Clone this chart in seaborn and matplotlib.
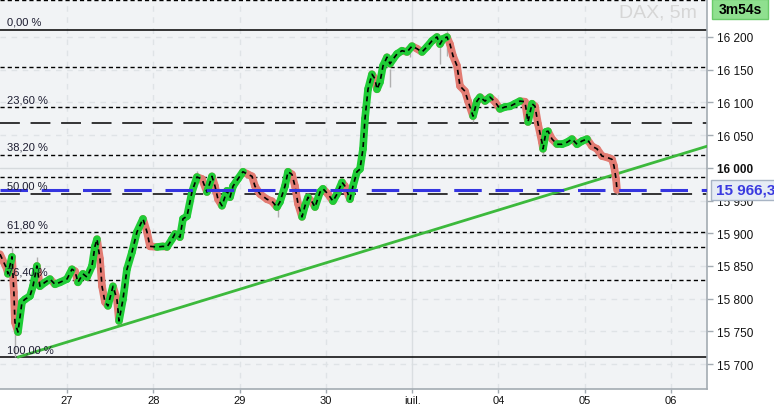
import numpy as np
import pandas as pd
import matplotlib
matplotlib.use("Agg")
import matplotlib.pyplot as plt
import seaborn as sns
from matplotlib.patches import Rectangle

# ---- data (x in trading-day units: 1 = "27", 5 = "iuil.", 8 = "06") ----
day = [0.224, 0.305, 0.316, 0.363, 0.385, 0.397, 0.432, 0.479, 0.513, 0.571, 0.606, 0.652, 0.687,
       0.745, 0.803, 0.861, 0.919, 1.000, 1.058, 1.093, 1.127, 1.185, 1.232, 1.290, 1.324, 1.348,
       1.382, 1.406, 1.440, 1.475, 1.533, 1.579, 1.603, 1.649, 1.695, 1.753, 1.811, 1.881, 1.927,
       1.962, 2.043, 2.112, 2.159, 2.217, 2.251, 2.309, 2.344, 2.391, 2.448, 2.506, 2.564, 2.622,
       2.680, 2.715, 2.750, 2.796, 2.854, 2.889, 2.924, 2.981, 3.039, 3.097, 3.144, 3.178, 3.236,
       3.317, 3.375, 3.433, 3.468, 3.526, 3.561, 3.607, 3.642, 3.677, 3.723, 3.758, 3.793, 3.839,
       3.874, 3.932, 3.966, 4.024, 4.082, 4.129, 4.187, 4.221, 4.279, 4.314, 4.360, 4.395, 4.430,
       4.453, 4.488, 4.534, 4.569, 4.592, 4.627, 4.662, 4.708, 4.743, 4.778, 4.824, 4.882, 4.940,
       4.998, 5.056, 5.114, 5.172, 5.229, 5.287, 5.322, 5.357, 5.403, 5.438, 5.473, 5.519, 5.554,
       5.612, 5.647, 5.705, 5.751, 5.786, 5.844, 5.901, 5.959, 6.017, 6.075, 6.133, 6.191, 6.249,
       6.307, 6.342, 6.388, 6.423, 6.458, 6.504, 6.516, 6.550, 6.574, 6.620, 6.678, 6.736, 6.794,
       6.852, 6.910, 6.968, 7.026, 7.083, 7.141, 7.199, 7.257, 7.315, 7.338, 7.362, 7.373]
price = [15868, 15845, 15838, 15864, 15810, 15764, 15749, 15795, 15799, 15804, 15819, 15850, 15819,
         15825, 15830, 15822, 15825, 15830, 15845, 15842, 15825, 15838, 15833, 15850, 15880, 15891,
         15861, 15819, 15795, 15789, 15819, 15799, 15766, 15799, 15845, 15871, 15902, 15922, 15902,
         15880, 15879, 15880, 15879, 15891, 15899, 15894, 15922, 15926, 15963, 15986, 15983, 15963,
         15987, 15972, 15952, 15942, 15965, 15955, 15972, 15983, 15994, 15990, 15987, 15972, 15960,
         15952, 15949, 15940, 15948, 15972, 15994, 15990, 15972, 15945, 15925, 15942, 15955, 15948,
         15940, 15963, 15968, 15960, 15949, 15960, 15978, 15972, 15952, 15972, 15994, 15998, 16029,
         16075, 16120, 16143, 16136, 16120, 16131, 16156, 16169, 16159, 16166, 16174, 16179, 16177,
         16186, 16182, 16177, 16185, 16194, 16200, 16189, 16197, 16200, 16189, 16171, 16156, 16125,
         16117, 16102, 16079, 16102, 16108, 16102, 16108, 16101, 16090, 16093, 16094, 16098, 16102,
         16101, 16070, 16098, 16094, 16067, 16039, 16029, 16055, 16056, 16044, 16036, 16036, 16039,
         16044, 16036, 16041, 16044, 16033, 16029, 16018, 16016, 16013, 16003, 15983, 15966.3]

# gray wicks: position, low, high
wick_day = [0.40, 0.363, 0.652, 2.506, 2.68, 3.44, 4.743, 4.97, 5.322, 5.40, 5.705, 6.516, 7.373]
wick_low = [15711, 15855, 15840, 15975, 15960, 15925, 16124, 16170, 16159, 16171, 16070, 16020, 15958]
wick_high = [15770, 15879, 15864, 15995, 15990, 15945, 16151, 16190, 16197, 16209, 16080, 16030, 15970]

fib_high = 16210.7
fib_low = 15710.7
fib_ratios = [0.0, 0.236, 0.382, 0.5, 0.618, 0.764, 1.0]
fib_labels = ["0,00 %", "23,60 %", "38,20 %", "50,00 %", "61,80 %", "76,40 %", "100,00 %"]

short_dash_levels = [16257, 16154, 15986, 15879]
long_dash_levels = [16068.5]

last_price = 15966.3
trend_x = [0.432, 8.416]
trend_y = [15710.7, 16033.0]

x_ticks = [1, 2, 3, 4, 5, 6, 7, 8]
x_labels = ["27", "28", "29", "30", "iuil.", "04", "05", "06"]
y_ticks = [15700, 15750, 15800, 15850, 15900, 15950, 16000, 16050, 16100, 16150, 16200]

XLIM = (0.224, 8.416)
YLIM = (15662, 16258)

# ---- figure ----
sns.set_theme(style="white")
plt.rcParams["font.family"] = ["Liberation Sans", "DejaVu Sans"]

fig = plt.figure(figsize=(7.74, 4.06), dpi=100)
fig.patch.set_facecolor("white")
ax = fig.add_axes([0, 1 - 390 / 406, 707 / 774, 390 / 406])
ax.set_facecolor("#f1f3f5")
ax.set_xlim(*XLIM)
ax.set_ylim(*YLIM)

# grid
for t in y_ticks:
    if t == 16000:
        ax.axhline(t, color="#d6dadd", lw=1, zorder=0)
    else:
        ax.axhline(t, color="#dfe3e6", lw=1, ls=(0, (4, 4)), zorder=0)
for t in x_ticks:
    if t == 5:
        ax.axvline(t, color="#dadee1", lw=1, zorder=0)
    else:
        ax.axvline(t, color="#dfe3e6", lw=1, ls=(0, (4, 4)), zorder=0)

# levels
for r, lab in zip(fib_ratios, fib_labels):
    lv = fib_high - r * (fib_high - fib_low)
    if r in (0.0, 1.0):
        ax.axhline(lv, color="black", lw=1.1, zorder=2)
    elif r == 0.5:
        ax.axhline(lv, color="black", lw=1.1, ls=(0, (13, 7)), zorder=2)
    else:
        ax.axhline(lv, color="black", lw=1.0, ls=(0, (3, 2.2)), zorder=2)
    ax.annotate(lab, xy=(0.0, lv), xycoords=("axes fraction", "data"),
                xytext=(7, 3), textcoords="offset pixels", fontsize=8, color="#1c1c30",
                ha="left", va="bottom", zorder=6)
for lv in short_dash_levels:
    ax.axhline(lv, color="black", lw=1.0, ls=(0, (3, 2.2)), zorder=2)
for lv in long_dash_levels:
    ax.axhline(lv, color="black", lw=1.1, ls=(0, (13, 7)), zorder=2)

# trend line
sns.lineplot(x=trend_x, y=trend_y, color="#3cb93c", linewidth=2, ax=ax, zorder=3)

# wicks
ax.vlines(wick_day, wick_low, wick_high, color="#b0b0b0", lw=1, zorder=3)

# coloured thick price line
rows = []
for i in range(len(day) - 1):
    d = "up" if price[i + 1] >= price[i] else "down"
    rows.append((i, day[i], price[i], d))
    rows.append((i, day[i + 1], price[i + 1], d))
seg = pd.DataFrame(rows, columns=["seg", "day", "price", "dir"])
sns.lineplot(data=seg, x="day", y="price", hue="dir", units="seg", estimator=None,
             palette={"up": "#1fcc36", "down": "#e27b72"}, linewidth=5.5, legend=False,
             sort=False, ax=ax, solid_capstyle="round", zorder=4)
sns.lineplot(x=day, y=price, color="black", linewidth=1.2, linestyle=(0, (3, 2.5)),
             sort=False, ax=ax, zorder=5)

# last price line
ax.axhline(last_price, color="#3535e0", lw=2.2, ls=(0, (9, 4.5)), zorder=5)

# axes styling
for s in ["left", "top"]:
    ax.spines[s].set_visible(False)
for s in ["right", "bottom"]:
    ax.spines[s].set_color("#a3abb2")
    ax.spines[s].set_linewidth(1.2)
ax.yaxis.tick_right()
ax.set_yticks(y_ticks)
ax.set_yticklabels([f"{t:,}".replace(",", " ") for t in y_ticks])
for lab in ax.get_yticklabels():
    if lab.get_text() == "16 000":
        lab.set_fontweight("bold")
ax.set_xticks(x_ticks)
ax.set_xticklabels(x_labels)
ax.tick_params(axis="y", direction="out", length=4, width=1, color="#a3abb2", pad=3,
               labelsize=8.5, labelcolor="#111111", right=True, left=False)
ax.tick_params(axis="x", direction="out", length=3, width=1, color="#a3abb2", pad=1,
               labelsize=8, labelcolor="#111111", bottom=True)
ax.set_xlabel("")
ax.set_ylabel("")

# watermark
ax.text(0.985, 0.988, "DAX, 5m", transform=ax.transAxes, ha="right", va="top",
        fontsize=14, color="#d6d6d6", zorder=1)

# countdown box
fig.patches.append(Rectangle((712 / 774, 1 - 20 / 406), 56 / 774, 20 / 406,
                             transform=fig.transFigure, facecolor="#8fe08f",
                             edgecolor="#6acb6a", lw=1))
fig.text(740 / 774, 1 - 10 / 406, "3m54s", ha="center", va="center", fontsize=10,
         fontweight="bold", color="black")

# last price box
yfrac = ax.transLimits.transform((0, last_price))[1]
yfig = (1 - 390 / 406) + yfrac * (390 / 406)
fig.patches.append(Rectangle((711 / 774, yfig - 10 / 406), 70 / 774, 20 / 406,
                             transform=fig.transFigure, facecolor="#e6ecf5",
                             edgecolor="#a8b4c4", lw=1, zorder=10))
fig.text(716 / 774, yfig, "15 966,3", ha="left", va="center", fontsize=11,
         fontweight="bold", color="#3a3ae0", zorder=11)

fig.savefig("out.png", dpi=100)
